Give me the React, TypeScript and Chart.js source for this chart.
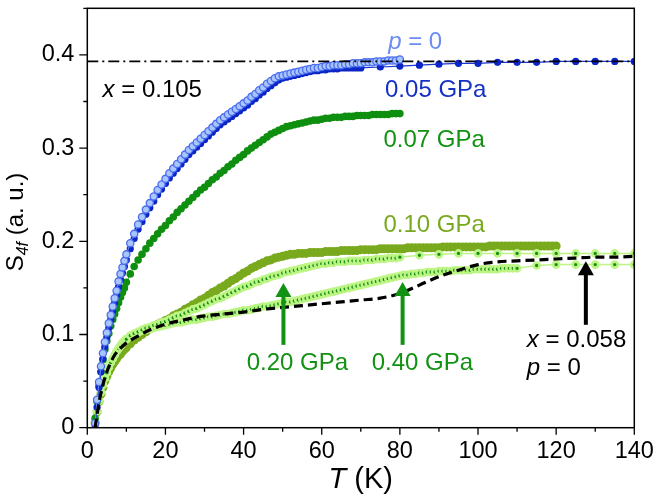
import React, { useEffect, useRef } from "react";
import { Chart, registerables } from "chart.js";
Chart.register(...registerables);

const FONT = "'Liberation Sans', Arial, Helvetica, sans-serif";

// ---------- temperature grids (K) ----------
const T_LOW = [2, 2.5, 3, 3.5, 4, 4.5, 5, 5.5, 6, 6.5, 7, 7.5, 8, 8.5, 9, 9.5];
const T_10_70 = [10, 11, 12, 13, 14, 15, 16, 17, 18, 19, 20, 21, 22, 23, 24, 25, 26, 27, 28, 29, 30, 31, 32, 33, 34, 35, 36, 37, 38, 39, 40, 41, 42, 43, 44, 45, 46, 47, 48, 49, 50, 51, 52, 53, 54, 55, 56, 57, 58, 59, 60, 61, 62, 63, 64, 65, 66, 67, 68, 69, 70];
const T_71_80 = [71, 72, 73, 74, 75, 76, 77, 78, 79, 80];
const T_81_110 = [81, 82, 83, 84, 85, 86, 87, 88, 89, 90, 91, 92, 93, 94, 95, 96, 97, 98, 99, 100, 101, 102, 103, 104, 105, 106, 107, 108, 109, 110];
const T_111_120 = [111, 112, 113, 114, 115, 116, 117, 118, 119, 120];
const T_SPARSE_005 = [75, 80, 85, 90, 95, 100, 105, 110, 115, 120, 125, 130, 135, 140];
const T_SPARSE_020 = [85, 90, 95, 100, 105, 110, 115, 120, 125, 130, 135, 140];
const T_SPARSE_040 = [115, 120, 125, 130, 135, 140];
const T_058 = [2, 2.5, 3, 4, 5, 6, 7, 8, 10, 12, 15, 20, 25, 30, 35, 40, 45, 50, 55, 60, 65, 70, 75, 80, 85, 90, 95, 100, 105, 110, 115, 120, 125, 130, 135, 140];
const T_REF = [0, 140];

// ---------- S_4f values (a. u.) ----------
const S_P0 = [
  0.005, 0.030, 0.049, 0.066, 0.080, 0.092, 0.102, 0.112, 0.121, 0.130, 0.139, 0.147, 0.157, 0.165, 0.172, 0.179,
  0.186, 0.198, 0.208, 0.218, 0.226, 0.234, 0.241, 0.248, 0.255, 0.261,
  0.267, 0.273, 0.278, 0.283, 0.288, 0.293, 0.298, 0.302, 0.306, 0.310,
  0.314, 0.318, 0.322, 0.326, 0.330, 0.333, 0.336, 0.339, 0.342, 0.345,
  0.348, 0.351, 0.355, 0.358, 0.362, 0.365, 0.369, 0.372, 0.375, 0.377,
  0.378, 0.379, 0.380, 0.381, 0.382, 0.383, 0.384, 0.385, 0.386, 0.386,
  0.387, 0.388, 0.388, 0.389, 0.389, 0.389, 0.390, 0.390, 0.391, 0.391,
  0.391, 0.392, 0.392, 0.392, 0.393, 0.393, 0.393, 0.394, 0.394, 0.394, 0.395,
];
const S_005_DENSE = [
  0.003, 0.022, 0.043, 0.060, 0.074, 0.087, 0.097, 0.107, 0.116, 0.125, 0.134, 0.142, 0.151, 0.159, 0.166, 0.173,
  0.180, 0.192, 0.203, 0.213, 0.221, 0.229, 0.236, 0.243, 0.250, 0.256,
  0.262, 0.268, 0.273, 0.278, 0.283, 0.288, 0.293, 0.297, 0.301, 0.305,
  0.309, 0.313, 0.317, 0.321, 0.325, 0.328, 0.331, 0.334, 0.337, 0.340,
  0.343, 0.346, 0.350, 0.353, 0.357, 0.360, 0.364, 0.367, 0.370, 0.373,
  0.375, 0.376, 0.377, 0.378, 0.379, 0.380, 0.381, 0.382, 0.383, 0.383,
  0.384, 0.384, 0.385, 0.385, 0.385, 0.386, 0.386, 0.386, 0.386, 0.386, 0.386,
];
const S_005_SPARSE = [0.387, 0.388, 0.389, 0.390, 0.391, 0.391, 0.392, 0.392, 0.392, 0.393, 0.393, 0.393, 0.393, 0.393];
const S_007 = [
  0.010, 0.028, 0.045, 0.060, 0.073, 0.084, 0.093, 0.101, 0.109, 0.116, 0.122, 0.128, 0.134, 0.140, 0.145, 0.150,
  0.156, 0.165, 0.173, 0.180, 0.186, 0.192, 0.198, 0.203, 0.208, 0.213,
  0.217, 0.222, 0.226, 0.231, 0.235, 0.239, 0.243, 0.247, 0.251, 0.255,
  0.258, 0.262, 0.266, 0.269, 0.273, 0.276, 0.280, 0.283, 0.287, 0.290,
  0.293, 0.297, 0.300, 0.303, 0.306, 0.309, 0.312, 0.315, 0.317, 0.319,
  0.321, 0.323, 0.324, 0.325, 0.326, 0.327, 0.328, 0.329, 0.330, 0.330,
  0.331, 0.332, 0.332, 0.333, 0.333, 0.333, 0.334, 0.334, 0.334, 0.335,
  0.335, 0.335, 0.335, 0.336, 0.336, 0.336, 0.336, 0.336, 0.337, 0.337, 0.337,
];
const S_010 = [
  0.005, 0.017, 0.028, 0.036, 0.043, 0.050, 0.055, 0.060, 0.064, 0.068, 0.071, 0.074, 0.077, 0.079, 0.082, 0.084,
  0.086, 0.090, 0.094, 0.097, 0.100, 0.103, 0.106, 0.108, 0.111, 0.113,
  0.115, 0.117, 0.120, 0.122, 0.124, 0.127, 0.129, 0.132, 0.134, 0.137,
  0.139, 0.142, 0.145, 0.147, 0.150, 0.152, 0.155, 0.158, 0.160, 0.163,
  0.166, 0.168, 0.171, 0.173, 0.175, 0.177, 0.179, 0.180, 0.182, 0.183,
  0.184, 0.185, 0.186, 0.186, 0.187, 0.187, 0.187, 0.188, 0.188, 0.188,
  0.188, 0.189, 0.189, 0.189, 0.189, 0.190, 0.190, 0.190, 0.190, 0.190,
  0.191, 0.191, 0.191, 0.191, 0.191, 0.192, 0.192, 0.192, 0.192, 0.192,
  0.192, 0.192, 0.193, 0.193, 0.193, 0.193, 0.193, 0.193, 0.193, 0.193,
  0.193, 0.194, 0.194, 0.194, 0.194, 0.194, 0.194, 0.194, 0.194, 0.194,
  0.194, 0.194, 0.194, 0.195, 0.195, 0.195, 0.195, 0.195, 0.195, 0.195,
  0.195, 0.195, 0.195, 0.195, 0.195, 0.195, 0.195, 0.195, 0.195, 0.195,
  0.195,
];
const S_020_DENSE = [
  0.006, 0.018, 0.029, 0.038, 0.046, 0.053, 0.059, 0.065, 0.070, 0.074, 0.078, 0.082, 0.085, 0.088, 0.091, 0.093,
  0.095, 0.099, 0.101, 0.103, 0.105, 0.107, 0.108, 0.110, 0.111, 0.113,
  0.114, 0.116, 0.118, 0.120, 0.121, 0.123, 0.125, 0.127, 0.128, 0.130,
  0.132, 0.134, 0.136, 0.138, 0.139, 0.141, 0.143, 0.145, 0.147, 0.149,
  0.151, 0.152, 0.154, 0.156, 0.157, 0.159, 0.160, 0.162, 0.163, 0.164,
  0.166, 0.167, 0.168, 0.169, 0.170, 0.171, 0.172, 0.173, 0.174, 0.175,
  0.176, 0.176, 0.177, 0.177, 0.178, 0.178, 0.178, 0.179, 0.179, 0.179,
  0.179, 0.180, 0.180, 0.180, 0.181, 0.181, 0.181, 0.182, 0.182, 0.182, 0.183,
];
const S_020_SPARSE = [0.185, 0.186, 0.187, 0.187, 0.187, 0.187, 0.187, 0.187, 0.187, 0.187, 0.187, 0.187];
const S_040_DENSE = [
  0.006, 0.018, 0.029, 0.038, 0.046, 0.053, 0.059, 0.065, 0.070, 0.074, 0.078, 0.082, 0.085, 0.088, 0.091, 0.093,
  0.095, 0.098, 0.100, 0.102, 0.104, 0.105, 0.106, 0.107, 0.108, 0.109,
  0.110, 0.111, 0.112, 0.113, 0.113, 0.114, 0.115, 0.116, 0.116, 0.117,
  0.118, 0.119, 0.119, 0.120, 0.121, 0.122, 0.122, 0.123, 0.124, 0.125,
  0.126, 0.126, 0.127, 0.128, 0.129, 0.130, 0.130, 0.131, 0.132, 0.133,
  0.134, 0.135, 0.135, 0.136, 0.137, 0.138, 0.139, 0.140, 0.141, 0.142,
  0.143, 0.144, 0.145, 0.146, 0.147, 0.148, 0.149, 0.150, 0.151, 0.152,
  0.153, 0.154, 0.155, 0.156, 0.157, 0.158, 0.159, 0.160, 0.161, 0.162,
  0.163, 0.164, 0.164, 0.165, 0.165, 0.166, 0.166, 0.167, 0.167, 0.167,
  0.168, 0.168, 0.168, 0.168, 0.169, 0.169, 0.169, 0.169, 0.169, 0.170,
  0.170, 0.170, 0.170, 0.170, 0.170, 0.170, 0.171, 0.171, 0.171, 0.171, 0.171,
];
const S_040_SPARSE = [0.174, 0.175, 0.175, 0.175, 0.175, 0.175];
const S_058 = [0.0, 0.014, 0.027, 0.046, 0.060, 0.070, 0.078, 0.083, 0.091, 0.096, 0.103, 0.111, 0.116, 0.120, 0.122, 0.124, 0.127, 0.129, 0.131, 0.133, 0.135, 0.137, 0.139, 0.144, 0.153, 0.162, 0.169, 0.175, 0.178, 0.179, 0.180, 0.181, 0.182, 0.183, 0.183, 0.184];
const S_REF = [0.393, 0.393];

// axis ticks
const X_LABELS = [0, 20, 40, 60, 80, 100, 120, 140];
const Y_LABELS = ["0", "0.1", "0.2", "0.3", "0.4"];

type Part = { t: string; it?: boolean; size?: number; dy?: number };

function drawParts(ctx: CanvasRenderingContext2D, parts: Part[], x: number, yc: number, size: number, color: string, align: "left" | "center" = "left") {
  const fonts = parts.map((p) => `${p.it ? "italic " : ""}${p.size || size}px ${FONT}`);
  const widths = parts.map((p, i) => {
    ctx.font = fonts[i];
    return ctx.measureText(p.t).width;
  });
  const total = widths.reduce((a, b) => a + b, 0);
  let cx = align === "center" ? x - total / 2 : x;
  const base = yc + size * 0.358;
  ctx.fillStyle = color;
  ctx.textAlign = "left";
  ctx.textBaseline = "alphabetic";
  parts.forEach((p, i) => {
    ctx.font = fonts[i];
    ctx.fillText(p.t, cx, base + (p.dy || 0));
    cx += widths[i];
  });
}

const NOTES: { T: number; S: number; color: string; parts: Part[] }[] = [
  { T: 77.0, S: 0.4158, color: "#6c8cf4", parts: [{ t: "p", it: true }, { t: " = 0" }] },
  { T: 76.2, S: 0.364, color: "#1530c4", parts: [{ t: "0.05 GPa" }] },
  { T: 75.8, S: 0.3108, color: "#129212", parts: [{ t: "0.07 GPa" }] },
  { T: 75.8, S: 0.2194, color: "#79a91f", parts: [{ t: "0.10 GPa" }] },
  { T: 3.9, S: 0.364, color: "#000", parts: [{ t: "x", it: true }, { t: " = 0.105" }] },
  { T: 40.8, S: 0.0706, color: "#129212", parts: [{ t: "0.20 GPa" }] },
  { T: 72.8, S: 0.0706, color: "#129212", parts: [{ t: "0.40 GPa" }] },
  { T: 112.5, S: 0.0954, color: "#000", parts: [{ t: "x", it: true }, { t: " = 0.058" }] },
  { T: 112.5, S: 0.0653, color: "#000", parts: [{ t: "p", it: true }, { t: " = 0" }] },
];

const ARROWS = [
  { T: 50.2, from: 0.0889, to: 0.1553, color: "#129212" },
  { T: 80.7, from: 0.0889, to: 0.1563, color: "#129212" },
  { T: 127.6, from: 0.1104, to: 0.1785, color: "#000" },
];

export default function App() {
  const ref = useRef<HTMLCanvasElement>(null);
  useEffect(() => {
    const canvas = ref.current;
    if (!canvas) return;
    const xy = (ts: number[], ss: number[]) => ts.map((t, i) => ({ x: t, y: ss[i] }));
    const T80 = [...T_LOW, ...T_10_70, ...T_71_80];
    const T70 = [...T_LOW, ...T_10_70];
    const T110 = [...T80, ...T_81_110];
    const T120 = [...T110, ...T_111_120];

    const overlay = {
      id: "overlay",
      afterDraw(chart: any) {
        const ctx: CanvasRenderingContext2D = chart.ctx;
        const xs = chart.scales.x;
        const ys = chart.scales.y;
        const { left, right, top, bottom } = chart.chartArea;
        ctx.save();
        // frame
        ctx.strokeStyle = "#000";
        ctx.lineWidth = 1.5;
        ctx.strokeRect(left, top, right - left, bottom - top);
        // ticks
        ctx.lineWidth = 1.3;
        ctx.beginPath();
        xs.ticks.forEach((tk: any) => {
          const px = xs.getPixelForValue(tk.value);
          const major = X_LABELS.includes(Math.round(tk.value));
          ctx.moveTo(px, bottom);
          ctx.lineTo(px, bottom + (major ? 7 : 4));
        });
        ys.ticks.forEach((tk: any, i: number) => {
          const py = ys.getPixelForValue(tk.value);
          const major = i % 2 === 0;
          ctx.moveTo(left, py);
          ctx.lineTo(left - (major ? 8 : 4), py);
        });
        ctx.stroke();

        // annotations
        NOTES.forEach((n) => {
          drawParts(ctx, n.parts, xs.getPixelForValue(n.T), ys.getPixelForValue(n.S), 24, n.color);
        });
        // arrows
        ARROWS.forEach((a) => {
          const x = xs.getPixelForValue(a.T);
          const y0 = ys.getPixelForValue(a.from);
          const y1 = ys.getPixelForValue(a.to);
          const head = 14;
          ctx.strokeStyle = a.color;
          ctx.fillStyle = a.color;
          ctx.lineWidth = 4;
          ctx.beginPath();
          ctx.moveTo(x, y0);
          ctx.lineTo(x, y1 + head - 1);
          ctx.stroke();
          ctx.beginPath();
          ctx.moveTo(x, y1);
          ctx.lineTo(x - 8, y1 + head);
          ctx.lineTo(x + 8, y1 + head);
          ctx.closePath();
          ctx.fill();
        });
        // axis titles
        drawParts(ctx, [{ t: "T", it: true }, { t: " (K)" }], (left + right) / 2, 478, 29, "#000", "center");
        ctx.translate(14, (top + bottom) / 2 + 4);
        ctx.rotate(-Math.PI / 2);
        drawParts(
          ctx,
          [{ t: "S" }, { t: "4f", it: true, size: 16, dy: 5 }, { t: " (a. u.)" }],
          0,
          0,
          24,
          "#000",
          "center"
        );
        ctx.restore();
      },
    };

    const chart = new Chart(canvas, {
      type: "line",
      data: {
        datasets: [
          {
            label: "x = 0.058, p = 0",
            data: xy(T_058, S_058),
            borderColor: "#000",
            borderWidth: 3.2,
            borderDash: [9, 5],
            pointRadius: 0,
            cubicInterpolationMode: "monotone",
            order: 0,
          },
          {
            label: "ref",
            data: xy(T_REF, S_REF),
            borderColor: "#000",
            borderWidth: 1.6,
            borderDash: [11, 4, 2, 4],
            pointRadius: 0,
            order: 1,
          },
          {
            label: "p = 0",
            data: xy(T80, S_P0),
            borderColor: "#7090f5",
            borderWidth: 1,
            pointRadius: 3.6,
            pointBackgroundColor: "#a9c6fc",
            pointBorderColor: "#4a6cf0",
            pointBorderWidth: 1.3,
            order: 2,
          },
          {
            label: "0.05 GPa",
            data: [...xy(T70, S_005_DENSE), ...xy(T_SPARSE_005, S_005_SPARSE)],
            borderColor: "#1b36d6",
            borderWidth: 1.2,
            pointRadius: 3.6,
            pointBackgroundColor: "#0b25c6",
            pointBorderColor: "#0b25c6",
            pointBorderWidth: 0,
            order: 3,
          },
          {
            label: "0.07 GPa",
            data: xy(T80, S_007),
            borderColor: "#139313",
            borderWidth: 1,
            borderDash: [3, 3],
            pointRadius: 3.8,
            pointBackgroundColor: "#0f8f0f",
            pointBorderColor: "#0f8f0f",
            pointBorderWidth: 0,
            order: 4,
          },
          {
            label: "0.20 GPa",
            data: [...xy(T80, S_020_DENSE), ...xy(T_SPARSE_020, S_020_SPARSE)],
            borderColor: "#bdf585",
            borderWidth: 1.5,
            pointRadius: 3,
            pointBackgroundColor: "#178f17",
            pointBorderColor: "#bdf585",
            pointBorderWidth: 2.6,
            order: 5,
          },
          {
            label: "0.40 GPa",
            data: [...xy(T110, S_040_DENSE), ...xy(T_SPARSE_040, S_040_SPARSE)],
            borderColor: "#bdf585",
            borderWidth: 1.5,
            pointRadius: 3,
            pointBackgroundColor: "#178f17",
            pointBorderColor: "#bdf585",
            pointBorderWidth: 2.6,
            order: 6,
          },
          {
            label: "0.10 GPa",
            data: xy(T120, S_010),
            borderColor: "#79a91d",
            borderWidth: 1,
            pointRadius: 4.5,
            pointBackgroundColor: "#79a91d",
            pointBorderColor: "#79a91d",
            pointBorderWidth: 0,
            order: 7,
          },
        ],
      },
      options: {
        animation: false,
        responsive: true,
        maintainAspectRatio: false,
        layout: { padding: { top: 8.3, right: 22.7, left: 0, bottom: 0 } },
        plugins: { legend: { display: false }, tooltip: { enabled: false } },
        scales: {
          x: {
            type: "linear",
            min: 0,
            max: 140,
            ticks: {
              stepSize: 10,
              autoSkip: false,
              maxRotation: 0,
              padding: 10,
              color: "#000",
              font: { family: FONT, size: 23.5 },
              callback: (v: any) => (X_LABELS.includes(Math.round(Number(v))) ? String(Math.round(Number(v))) : ""),
            },
            grid: { display: false, drawTicks: false },
            border: { display: false },
            afterFit: (s: any) => {
              s.height = 68.3;
              s.paddingLeft = 0;
              s.paddingRight = 0;
            },
          },
          y: {
            type: "linear",
            min: 0,
            max: 0.45,
            ticks: {
              stepSize: 0.05,
              autoSkip: false,
              padding: 13,
              color: "#000",
              font: { family: FONT, size: 23.5 },
              callback: (v: any) => {
                const k = Math.round(Number(v) * 20);
                return k % 2 === 0 && k / 2 < Y_LABELS.length ? Y_LABELS[k / 2] : "";
              },
            },
            grid: { display: false, drawTicks: false },
            border: { display: false },
            afterFit: (s: any) => {
              s.width = 87.3;
              s.paddingTop = 0;
              s.paddingBottom = 0;
            },
          },
        },
      },
      plugins: [overlay],
    } as any);
    return () => chart.destroy();
  }, []);

  return (
    <div style={{ position: "absolute", left: 0, top: 0, width: 657, height: 496, background: "#fff" }}>
      <canvas ref={ref} />
    </div>
  );
}
